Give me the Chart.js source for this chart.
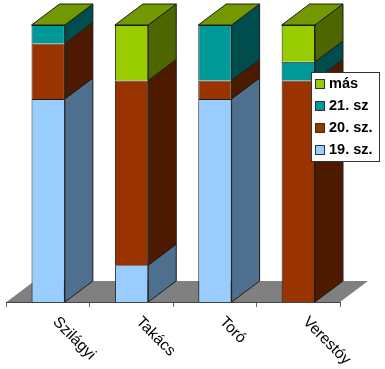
<!DOCTYPE html>
<html><head><meta charset="utf-8">
<style>html,body{margin:0;padding:0;background:#fff}#w{position:relative;width:385px;height:369px}</style>
<script src="https://cdn.jsdelivr.net/npm/chart.js@4"></script></head>
<body><div id="w"><canvas id="c" width="385" height="369"></canvas></div>
<script>
const categories = ['Szilágyi', 'Takács', 'Toró', 'Verestóy'];
const s19 = [73.3, 13.3, 73.3, 0];
const s20 = [20, 66.7, 6.7, 80];
const s21 = [6.7, 0, 20, 6.7];
const sMas = [0, 20, 0, 13.3];
const DX = 28, DY = 21;
const faces = [
  {label:'19. sz.', data:s19, front:'#99ccff', side:'#4f6f8f'},
  {label:'20. sz.', data:s20, front:'#993300', side:'#4d1a00'},
  {label:'21. sz',  data:s21, front:'#009999', side:'#004d4d'},
  {label:'más',     data:sMas, front:'#99cc00', side:'#4d6600', top:'#739900'}
];
function poly(ctx, pts, fill, stroke){
  ctx.beginPath();
  pts.forEach((p,i)=> i ? ctx.lineTo(p[0],p[1]) : ctx.moveTo(p[0],p[1]));
  ctx.closePath();
  ctx.fillStyle = fill; ctx.fill();
  if (stroke){ ctx.strokeStyle = stroke; ctx.lineWidth = 1; ctx.stroke(); }
}
const depth = {
  id:'depth',
  beforeDatasetsDraw(chart){
    const {ctx, chartArea:a} = chart;
    ctx.save();
    poly(ctx, [[a.left,a.bottom],[a.left+DX,a.bottom-DY],[a.right+DX,a.bottom-DY],[a.right,a.bottom]], '#808080');
    faces.forEach((f,d)=>{
      chart.getDatasetMeta(d).data.forEach((b)=>{
        const r = b.x + b.width/2, t = b.y, u = b.base;
        if (Math.abs(u-t) < 0.5) return;
        poly(ctx, [[r,u],[r+DX,u-DY],[r+DX,t-DY],[r,t]], f.side, '#1c1c1c');
      });
    });
    const last = faces.length-1;
    chart.getDatasetMeta(last).data.forEach((b)=>{
      const l = b.x-b.width/2, r = b.x+b.width/2, t = b.y;
      poly(ctx, [[l,t],[l+DX,t-DY],[r+DX,t-DY],[r,t]], faces[last].top, '#1c1c1c');
    });
    ctx.restore();
  },
  afterDraw(chart){
    const {ctx} = chart;
    const x=311.5, y=72.5, w=68, h=89;
    ctx.save();
    ctx.fillStyle='#fff'; ctx.fillRect(x,y,w,h);
    ctx.strokeStyle='#333'; ctx.lineWidth=1; ctx.strokeRect(x,y,w,h);
    ctx.font='bold 14.5px "Liberation Sans", Arial, sans-serif';
    ctx.textBaseline='middle'; ctx.textAlign='left';
    [...faces].reverse().forEach((f,i)=>{
      const cy = 84+i*22;
      ctx.fillStyle=f.front; ctx.fillRect(315.5,cy-4.5,9,9);
      ctx.strokeStyle='#333'; ctx.strokeRect(315.5,cy-4.5,9,9);
      ctx.fillStyle='#000'; ctx.fillText(f.label,329,cy);
    });
    ctx.restore();
  }
};
new Chart(document.getElementById('c'), {
  type:'bar',
  data:{labels:categories, datasets:faces.map(f=>({
    label:f.label, data:f.data, backgroundColor:f.front, borderColor:'#1c1c1c', borderWidth:1,
    barPercentage:0.4, categoryPercentage:1
  }))},
  options:{
    responsive:false, animation:false,
    layout:{padding:{left:6.5,right:45,top:25,bottom:0}},
    plugins:{legend:{display:false},tooltip:{enabled:false},title:{display:false}},
    scales:{
      x:{stacked:true,
        afterBuildTicks(s){ s._getXAxisLabelAlignment = ()=>'left'; },
        afterFit(s){ s.height = 67; },
        grid:{drawOnChartArea:false,drawTicks:true,tickLength:5,color:'#666',offset:true},
        border:{display:true,color:'#444'},
        ticks:{minRotation:-45,maxRotation:-45,autoSkip:false,padding:6,labelOffset:7,color:'#000',
          font:{family:'"Liberation Sans", Arial, sans-serif',size:15.5}}
      },
      y:{stacked:true,display:false,min:0,max:100}
    }
  },
  plugins:[depth]
});
</script></body></html>
